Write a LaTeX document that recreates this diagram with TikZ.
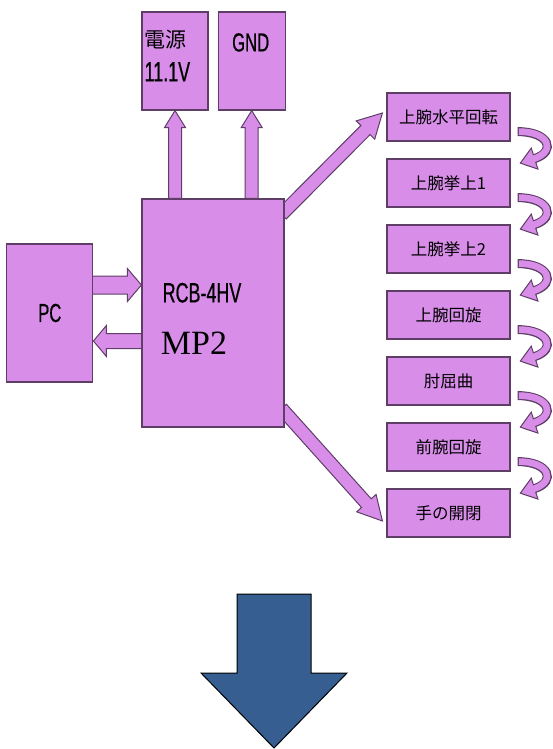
\documentclass[tikz,border=0pt]{standalone}
\usepackage{fontspec}
\usepackage{tikz}
\usetikzlibrary{positioning, calc, backgrounds}
\newfontfamily\jpfont{Noto Sans CJK JP}
\newfontfamily\narrowfont[FakeStretch=0.64, FakeBold=0.6]{Liberation Sans}
\newfontfamily\seriffont{Liberation Serif}
\definecolor{colorRelleno}{HTML}{D88EE8}
\definecolor{colorBorde}{HTML}{5E3E66}
\definecolor{colorFlecha}{HTML}{375E91}

% flecha gruesa: origen, destino, medio cuerpo, media punta, largo punta
\newcommand{\flechaGruesa}[5]{%
  \path (#1) coordinate (fg-a) (#2) coordinate (fg-b);
  \path ($(fg-b)!#5!(fg-a)$) coordinate (fg-c);
  \draw[blk] ($(fg-a)!#3!90:(fg-b)$) -- ($(fg-c)!#3!90:(fg-b)$) -- ($(fg-c)!#4!90:(fg-b)$) -- (fg-b)
    -- ($(fg-c)!#4!-90:(fg-b)$) -- ($(fg-c)!#3!-90:(fg-b)$) -- ($(fg-a)!#3!-90:(fg-b)$) -- cycle;}

% flecha curva al lado derecho de una caja
\newcommand{\giro}[1]{%
  \path (#1.south east) coordinate (gi-o);
  \path ($(gi-o)+(7,-10)$) coordinate (gi-s) ($(gi-o)+(46,10)$) coordinate (gi-k) ($(gi-o)+(24,17)$) coordinate (gi-e);
  \draw[draw=colorBorde, line width=9pt] (gi-s) .. controls +(32,0) and (gi-k) .. (gi-e);
  \draw[blk] ($(gi-e)!11pt!90:(gi-k)$) -- ($(gi-e)!-15pt!(gi-k)$) -- ($(gi-e)!11pt!-90:(gi-k)$) -- cycle;
  \draw[draw=colorRelleno, line width=6.6pt, shorten <=1.2pt, shorten >=-1.5pt] (gi-s) .. controls +(32,0) and (gi-k) .. (gi-e);}

\begin{document}
\begin{tikzpicture}[x=1pt, y=-1pt, node distance=16.8pt,
        bx/.style={draw=colorBorde, fill=colorRelleno, line width=1.2pt, inner sep=0pt},
        rb/.style={bx, minimum width=123pt, minimum height=48pt, font=\jpfont\fontsize{16.5}{18}\selectfont},
        blk/.style={draw=colorBorde, fill=colorRelleno, line width=1pt, line join=miter}]
    \useasboundingbox (0,0) rectangle (552,749);
    \node[bx, minimum width=142pt, minimum height=228pt] (mc) at (213,313) {};
    \node[bx, minimum width=86pt, minimum height=138pt, left=48pt of mc, font=\narrowfont\fontsize{26}{26}\selectfont] (pc) {PC};
    \node[bx, minimum width=66pt, minimum height=98pt] (pw) at (175,61) {};
    \node[bx, minimum width=67pt, minimum height=98pt, right=9pt of pw] (gnd) {};
    \node[anchor=base west, inner sep=0pt, font=\jpfont\fontsize{21}{21}\selectfont] (pwa) at ($(pw.north west)+(3,36)$) {電源};
    \node[anchor=base west, inner sep=0pt, font=\narrowfont\fontsize{28}{28}\selectfont] (pwb) at ($(pw.north west)+(3,70)$) {11.1V};
    \node[anchor=base, inner sep=0pt, font=\narrowfont\fontsize{26}{26}\selectfont] (gndt) at ($(gnd.north)+(-1,40)$) {GND};
    \node[anchor=base, inner sep=0pt, font=\narrowfont\fontsize{28}{28}\selectfont] (rcb) at ($(mc.north)+(-11,104)$) {RCB-4HV};
    \node[anchor=base, inner sep=0pt, font=\seriffont\fontsize{34}{34}\selectfont] (mp) at ($(mc.north)+(-19,156)$) {MP2};
    \node[rb] (r1) at (448.5,117) {上腕水平回転};
    \node[rb, below=of r1] (r2) {上腕挙上1};
    \node[rb, below=of r2] (r3) {上腕挙上2};
    \node[rb, below=of r3] (r4) {上腕回旋};
    \node[rb, below=of r4] (r5) {肘屈曲};
    \node[rb, below=of r5] (r6) {前腕回旋};
    \node[rb, below=of r6] (r7) {手の開閉};
    \begin{scope}[on background layer]
        \flechaGruesa{pw.south |- mc.north}{pw.south}{6.5pt}{10.5pt}{17pt}
        \flechaGruesa{gnd.south |- mc.north}{gnd.south}{6.5pt}{10.5pt}{17pt}
        \flechaGruesa{$(pc.east)+(-2,-28)$}{$(pc.east -| mc.west)+(0,-28)$}{9pt}{16.5pt}{14pt}
        \flechaGruesa{$(pc.east -| mc.west)+(2,28)$}{$(pc.east)+(0,28)$}{7.5pt}{15.5pt}{13pt}
        \flechaGruesa{$(mc.north east)+(-3,16)$}{$(r1.west)+(-4,-4)$}{6.5pt}{13pt}{24pt}
        \flechaGruesa{$(mc.south east)+(-3,-19)$}{$(r7.west)+(-4,8)$}{6.5pt}{13pt}{24pt}
    \end{scope}
    \giro{r1}
    \giro{r2}
    \giro{r3}
    \giro{r4}
    \giro{r5}
    \giro{r6}
    % flecha azul de abajo
    \draw[draw=black, fill=colorFlecha, line width=1pt, line join=miter]
        (237,594) -- (311,594) -- (311,673) -- (347,673) -- (274,748) -- (201,673) -- (237,673) -- cycle;
\end{tikzpicture}
\end{document}
